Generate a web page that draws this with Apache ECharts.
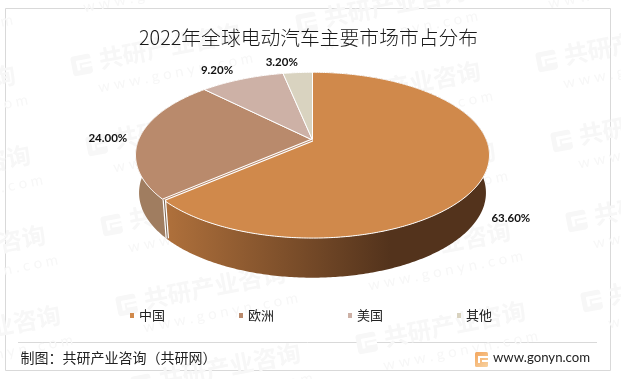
<!DOCTYPE html>
<html>
<head>
<meta charset="utf-8">
<script src="https://cdn.jsdelivr.net/npm/echarts@6/dist/echarts.min.js"></script>
<style>
html, body { margin: 0; padding: 0; background: #fff; }
#chart { width: 621px; height: 379px; }
</style>
</head>
<body>
<div id="chart"></div>
<script>
var categories = ['中国', '欧洲', '美国', '其他'];
var shares = [63.6, 24.0, 9.2, 3.2];
var topColors = ['#D0894B', '#B98A6C', '#CDB1A6', '#D9D3C0'];
var wallStops = [['#B0713C', '#53331C'], ['#A07D60', '#95735A'], ['#CDB1A6', '#CDB1A6'], ['#D9D3C0', '#D9D3C0']];
var labelOffsets = [[27, 42], [-32, 1], [-25, -9], [-16, -10]];

var titleText = '2022年全球电动汽车主要市场市占分布';
var sourceText = '制图：共研产业咨询（共研网）';
var siteText = 'www.gonyn.com';

var FONT = '"Noto Sans CJK SC", sans-serif';

// the disc is a circle seen in perspective, so the apex sits above the ellipse centre
var CX = 312.5, APEX_Y = 140, HALF_W = 174, LIFT = 54.5, PERSP = -0.183;
var DEPTH_SCALE_X = 0.98, DEPTH_SCALE_Y = 1.024, DEPTH_SHIFT = 33.9;

function project(deg) {
    var rad = deg * Math.PI / 180;
    var u = Math.sin(rad), v = -Math.cos(rad);
    var w = 1 + PERSP * v;
    return [CX + HALF_W * u / w, (LIFT * v + APEX_Y) / w];
}
function lower(p) {
    return [CX + (p[0] - CX) * DEPTH_SCALE_X, p[1] * DEPTH_SCALE_Y + DEPTH_SHIFT];
}
function arcPoints(from, to) {
    var pts = [];
    var n = Math.max(2, Math.ceil((to - from) * 1.5));
    for (var i = 0; i <= n; i++) {
        pts.push(project(from + (to - from) * i / n));
    }
    return pts;
}

function renderSlice(params, api) {
    var idx = params.seriesIndex;
    var total = shares.reduce(function (a, b) { return a + b; }, 0);
    var before = shares.slice(0, idx).reduce(function (a, b) { return a + b; }, 0);
    var value = api.value(0);
    var from = before / total * 360;
    var to = (before + value) / total * 360;
    var rim = arcPoints(from, to);
    var bottom = rim.map(lower).reverse();
    var endPt = rim[rim.length - 1];
    var children = [];

    children.push({
        type: 'polygon',
        z2: 1,
        shape: { points: rim.concat(bottom) },
        style: {
            fill: {
                type: 'linear', global: true,
                x: idx === 0 ? endPt[0] : endPt[0] - 30, y: 0,
                x2: idx === 0 ? 390 : endPt[0] + 30, y2: 0,
                colorStops: [
                    { offset: 0, color: wallStops[idx][0] },
                    { offset: 1, color: wallStops[idx][1] }
                ]
            }
        }
    });
    children.push({
        type: 'polygon',
        z2: 10,
        shape: { points: [[CX, APEX_Y]].concat(rim) },
        style: { fill: topColors[idx], stroke: '#fff', lineWidth: 1, lineJoin: 'round' }
    });

    // the largest slice is pulled a hair away from its neighbour, which leaves a double line
    if (idx === 0) {
        var low = lower(endPt);
        children.push({ type: 'line', z2: 12, shape: { x1: CX, y1: APEX_Y, x2: endPt[0], y2: endPt[1] }, style: { stroke: '#fff', lineWidth: 3 } });
        children.push({ type: 'line', z2: 13, shape: { x1: CX, y1: APEX_Y, x2: endPt[0], y2: endPt[1] }, style: { stroke: '#B98A6C', lineWidth: 1 } });
        children.push({ type: 'line', z2: 12, shape: { x1: endPt[0] + 1, y1: endPt[1], x2: low[0] + 1, y2: low[1] }, style: { stroke: '#fff', lineWidth: 3.5 } });
        children.push({ type: 'line', z2: 13, shape: { x1: endPt[0] + 1, y1: endPt[1], x2: low[0] + 1, y2: low[1] }, style: { stroke: '#7d6450', lineWidth: 1 } });
    }

    var mid = project((from + to) / 2);
    children.push({
        type: 'text',
        z2: 30,
        x: mid[0] + labelOffsets[idx][0],
        y: mid[1] + labelOffsets[idx][1],
        style: {
            text: value.toFixed(2) + '%',
            fill: '#111',
            font: 'bold 11.5px Lato, sans-serif',
            align: 'center',
            verticalAlign: 'middle'
        }
    });
    return { type: 'group', children: children };
}

// faint site marks behind everything
function watermark(x, y) {
    var c = '#f7f7f7';
    return {
        type: 'group',
        x: x, y: y,
        rotation: 11 * Math.PI / 180,
        silent: true,
        z: -10,
        children: [
            { type: 'rect', shape: { x: 0, y: 0, width: 20, height: 20, r: 3 }, style: { fill: c } },
            { type: 'rect', shape: { x: 5, y: 5, width: 16, height: 3 }, style: { fill: '#fff' } },
            { type: 'rect', shape: { x: 5, y: 5, width: 3, height: 10 }, style: { fill: '#fff' } },
            { type: 'rect', shape: { x: 10, y: 10, width: 10, height: 3 }, style: { fill: '#fff' } },
            { type: 'text', x: 28, y: -4, style: { text: '共研产业咨询', fill: c, font: 'bold 24px ' + FONT } },
            { type: 'text', x: 22, y: 28, style: { text: 'w w w . g o n y n . c o m', fill: c, font: '15px Lato, sans-serif' } }
        ]
    };
}

var graphics = [];
for (var r = -3; r <= 2; r++) {
    for (var c = -2; c <= 3; c++) {
        graphics.push(watermark(100 + 225 * c + 15 * r, 217 - 42 * c + 80 * r));
    }
}
graphics.push({ type: 'rect', z: -5, silent: true, shape: { x: 5.5, y: 8.5, width: 605, height: 362 }, style: { fill: 'none', stroke: '#d9d9d9', lineWidth: 1 } });
graphics.push({ type: 'line', z: -5, silent: true, shape: { x1: 18, y1: 342.5, x2: 597, y2: 342.5 }, style: { stroke: '#d9d9d9', lineWidth: 1 } });
graphics.push({ type: 'text', left: 20.5, top: 351, style: { text: sourceText, fill: '#222', font: '14px ' + FONT } });
graphics.push({ type: 'text', left: 493, top: 351, style: { text: siteText, fill: '#222', font: '13.2px Lato, sans-serif' } });
graphics.push({
    type: 'group', x: 475, y: 352,
    children: [
        {
            type: 'rect', shape: { x: 0, y: 0, width: 13, height: 15, r: 1.5 },
            style: {
                fill: {
                    type: 'linear', x: 0, y: 0, x2: 1, y2: 1,
                    colorStops: [{ offset: 0, color: '#F3A65E' }, { offset: 1, color: '#F8D2A0' }]
                }
            }
        },
        { type: 'rect', shape: { x: 3, y: 4, width: 10, height: 2 }, style: { fill: '#fff' } },
        { type: 'rect', shape: { x: 3, y: 4, width: 2, height: 7 }, style: { fill: '#fff' } },
        { type: 'rect', shape: { x: 7, y: 8, width: 6, height: 2 }, style: { fill: '#fff' } }
    ]
});

var chart = echarts.init(document.getElementById('chart'), null, { renderer: 'canvas' });
chart.setOption({
    animation: false,
    backgroundColor: '#fff',
    color: topColors,
    title: {
        text: titleText,
        left: 139,
        top: 28,
        padding: 0,
        textStyle: { fontFamily: FONT, fontSize: 19.8, fontWeight: 300, color: '#1a1a1a' }
    },
    legend: {
        data: categories,
        left: 130,
        top: 309,
        padding: 0,
        icon: 'rect',
        itemWidth: 4,
        itemHeight: 5,
        itemGap: 74,
        selectedMode: false,
        textStyle: { fontFamily: FONT, fontSize: 13, color: '#222' }
    },
    graphic: graphics,
    series: categories.map(function (name, i) {
        return {
            type: 'custom',
            name: name,
            coordinateSystem: 'none',
            renderItem: renderSlice,
            itemStyle: { color: topColors[i] },
            data: [shares[i]]
        };
    })
});
</script>
</body>
</html>
